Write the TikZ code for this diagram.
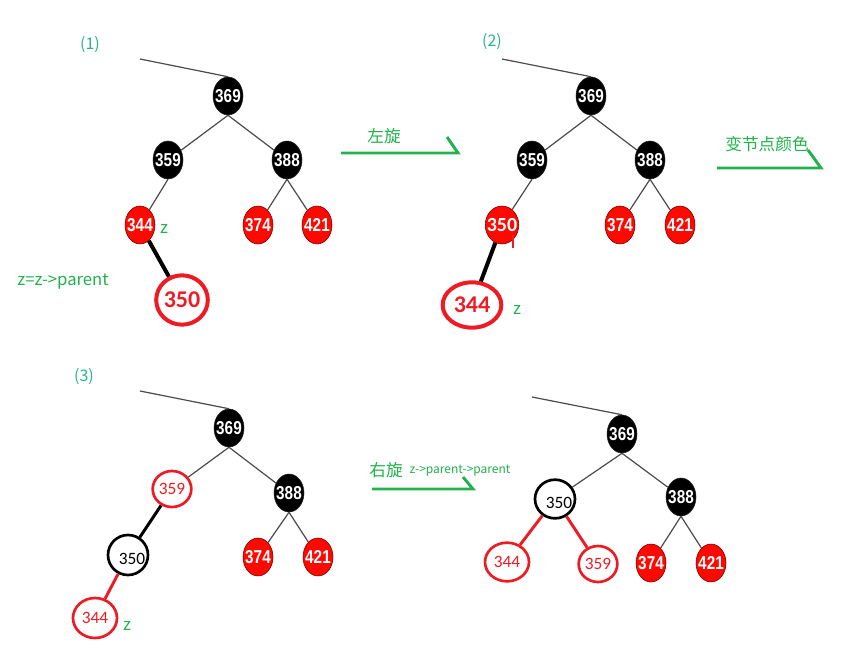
\documentclass[tikz,border=0pt]{standalone}
\usepackage{fontspec}
\setmainfont{Liberation Sans}
\newfontfamily\cjk{Noto Sans CJK SC}
\newfontfamily\keyfont[FakeStretch=0.82]{Liberation Sans}
\newfontfamily\notefont{Carlito}
\usetikzlibrary{shapes.geometric}

\definecolor{notegreen}{RGB}{34,177,76}
\definecolor{stepteal}{RGB}{40,180,140}
\definecolor{inkred}{RGB}{237,28,36}
\definecolor{fillred}{RGB}{255,8,0}
\definecolor{edgegray}{RGB}{75,75,75}

\begin{document}
\begin{tikzpicture}[x=0.75pt, y=-0.75pt,
  blknode/.style={ellipse, fill=black, draw=black!85, text=white, inner xsep=-2.5pt, inner ysep=0pt,
    minimum width=22.5pt, minimum height=28.5pt, font=\keyfont\bfseries\fontsize{14}{14}\selectfont},
  rednode/.style={blknode, fill=fillred, draw=red!45!black},
  bigring/.style={ellipse, draw=inkred, line width=3pt, text=inkred, inner sep=0pt,
    font=\notefont\bfseries\fontsize{18}{18}\selectfont},
  redring/.style={ellipse, draw=inkred, line width=2pt, fill=white, text=inkred, inner sep=0pt,
    font=\notefont\fontsize{13}{13}\selectfont},
  blkring/.style={redring, draw=black, text=black},
  tedge/.style={draw=edgegray, line width=0.9pt},
  fatedge/.style={draw=black, line width=3pt},
  rededge/.style={draw=inkred, line width=2.2pt},
  note/.style={text=notegreen, font=\cjk\fontsize{12.5}{12.5}\selectfont, inner sep=0pt},
  steplabel/.style={text=stepteal, font=\cjk\fontsize{12}{12}\selectfont, inner sep=0pt},
  hookarrow/.style={draw=notegreen, line width=2.2pt}]
\useasboundingbox (0,0) rectangle (852,663);

% (1) z is the right child of a red parent
\node[steplabel] (lbla) at (90,45) {(1)};
\coordinate (upa) at (140,59);
\node[blknode] (a369) at (228,96) {369};
\node[blknode] (a359) at (168,160) {359};
\node[blknode] (a388) at (287,160) {388};
\node[rednode] (a344) at (140,225) {344};
\node[rednode] (a374) at (258,225) {374};
\node[rednode] (a421) at (317,225) {421};
\node[bigring, minimum width=38pt, minimum height=37pt] (a350) at (182,300) {350};
\node[note] (za) at (164,229) {z};
\node[note] (notea) at (63,282) {z=z->parent};
\draw[tedge] (upa) -- (a369.north);
\draw[tedge] (a369.south) -- (a359);
\draw[tedge] (a369.south) -- (a388);
\draw[tedge] (a359.south) -- (a344);
\draw[tedge] (a388.south) -- (a374);
\draw[tedge] (a388.south) -- (a421);
\draw[fatedge] (a344) -- (a350);

% arrow: left rotation
\node[note] (rotl) at (384,136) {左旋};
\coordinate (rotla) at (341,153);
\coordinate (rotlb) at (458,153);
\coordinate (rotlc) at (447,137);
\draw[hookarrow] (rotla) -- (rotlb) -- (rotlc);

% (2) after the left rotation
\node[steplabel] (lblb) at (492,42) {(2)};
\coordinate (upb) at (502,59);
\node[blknode] (b369) at (591,96) {369};
\node[blknode] (b359) at (532,160) {359};
\node[blknode] (b388) at (650,160) {388};
\node[rednode, font=\notefont\bfseries\fontsize{15}{15}\selectfont] (b350) at (502,225) {350};
\node[rednode] (b374) at (620,225) {374};
\node[rednode] (b421) at (680,225) {421};
\node[bigring, minimum width=44pt, minimum height=34pt] (b344) at (472,305) {344};
\node[note] (zb) at (517,310) {z};
\coordinate (tickb) at (513,235);
\draw[draw=inkred, line width=1.6pt] (tickb) -- ++(0,13);
\draw[tedge] (upb) -- (b369.north);
\draw[tedge] (b369.south) -- (b359);
\draw[tedge] (b369.south) -- (b388);
\draw[tedge] (b359.south) -- (b350);
\draw[tedge] (b388.south) -- (b374);
\draw[tedge] (b388.south) -- (b421);
\draw[fatedge] (b350) -- (b344);

% arrow: recolour
\node[note] (recol) at (767,144) {变节点颜色};
\coordinate (recola) at (717,168);
\coordinate (recolb) at (821,168);
\coordinate (recolc) at (808,150);
\draw[hookarrow] (recola) -- (recolb) -- (recolc);

% (3) after recolouring
\node[steplabel] (lblc) at (84,377) {(3)};
\coordinate (upc) at (140,391);
\node[blknode] (c369) at (229,428) {369};
\node[redring, minimum width=29pt, minimum height=27pt] (c359) at (172,489) {359};
\node[blknode] (c388) at (289,493) {388};
\node[blkring, minimum width=30pt, minimum height=30pt] (c350) at (128,555) {};
\node[text=black, font=\notefont\fontsize{13}{13}\selectfont] (c350t) at (132,559) {350};
\node[redring, minimum width=33pt, minimum height=30pt] (c344) at (95,618) {344};
\node[rednode] (c374) at (258,557) {374};
\node[rednode] (c421) at (318,557) {421};
\node[note] (zc) at (127,626) {z};
\draw[tedge] (upc) -- (c369.north);
\draw[tedge] (c369.south) -- (c359);
\draw[tedge] (c369.south) -- (c388);
\draw[tedge] (c388.south) -- (c374);
\draw[tedge] (c388.south) -- (c421);
\draw[draw=black, line width=2.2pt] (c359) -- (c350);
\draw[rededge] (c350) -- (c344);

% arrow: right rotation
\node[note] (rotr) at (386,470) {右旋};
\node[note, font=\cjk\fontsize{9}{9}\selectfont] (rotrsub) at (460,471) {z->parent->parent};
\coordinate (rotra) at (372,489);
\coordinate (rotrb) at (473,489);
\coordinate (rotrc) at (463,477);
\draw[hookarrow] (rotra) -- (rotrb) -- (rotrc);

% (4) after the right rotation
\coordinate (upd) at (532,397);
\node[blknode] (d369) at (622,434) {369};
\node[blkring, minimum width=30pt, minimum height=29pt] (d350) at (555,499) {};
\node[text=black, font=\notefont\fontsize{13}{13}\selectfont] (d350t) at (559,503) {350};
\node[blknode] (d388) at (681,497) {388};
\node[redring, minimum width=33pt, minimum height=29pt] (d344) at (507,562) {344};
\node[redring, minimum width=29pt, minimum height=27pt] (d359) at (598,564) {359};
\node[rednode] (d374) at (651,563) {374};
\node[rednode] (d421) at (711,563) {421};
\draw[tedge] (upd) -- (d369.north);
\draw[tedge] (d369.south) -- (d350);
\draw[tedge] (d369.south) -- (d388);
\draw[tedge] (d388.south) -- (d374);
\draw[tedge] (d388.south) -- (d421);
\draw[rededge] (d350) -- (d344);
\draw[rededge] (d350) -- (d359);
\end{tikzpicture}
\end{document}
